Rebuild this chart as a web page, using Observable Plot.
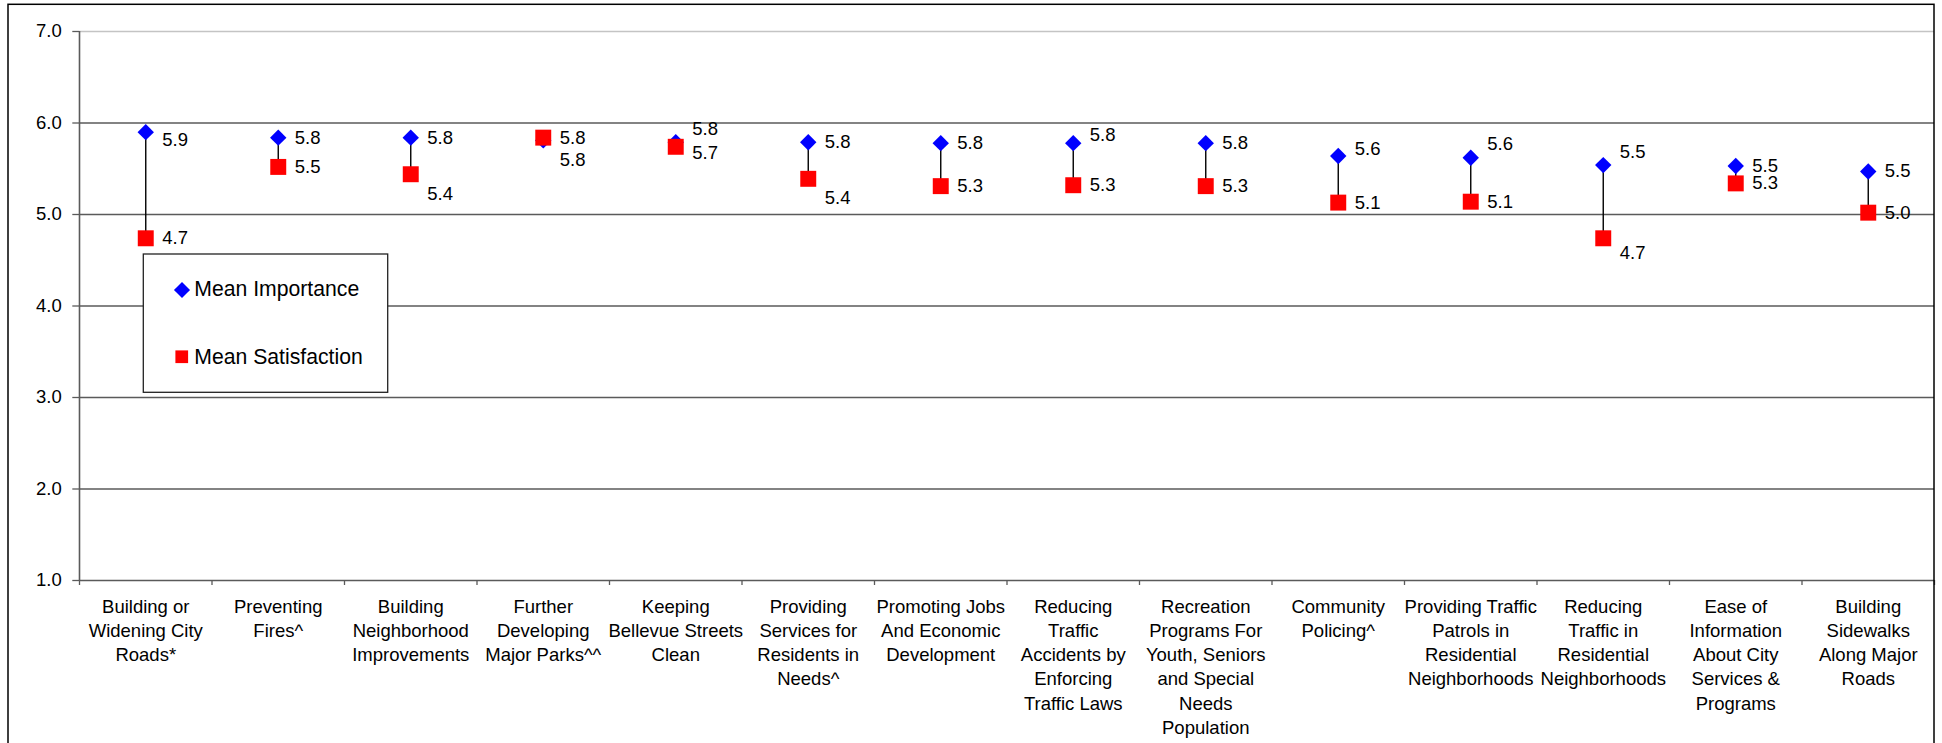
<!DOCTYPE html>
<html>
<head>
<meta charset="utf-8">
<script src="https://cdn.jsdelivr.net/npm/d3@7"></script>
<script src="https://cdn.jsdelivr.net/npm/@observablehq/plot@0.6"></script>
<style>
  html, body { margin: 0; padding: 0; background: #fff; }
  #wrap { position: relative; width: 1942px; height: 743px; overflow: hidden; background: #fff; }
  #wrap svg { position: absolute; left: 0; top: 0; }
</style>
</head>
<body>
<div id="wrap"></div>
<script>
// ---- data ----
const categories = [
  "Building or\nWidening City\nRoads*",
  "Preventing\nFires^",
  "Building\nNeighborhood\nImprovements",
  "Further\nDeveloping\nMajor Parks^^",
  "Keeping\nBellevue Streets\nClean",
  "Providing\nServices for\nResidents in\nNeeds^",
  "Promoting Jobs\nAnd Economic\nDevelopment",
  "Reducing\nTraffic\nAccidents by\nEnforcing\nTraffic Laws",
  "Recreation\nPrograms For\nYouth, Seniors\nand Special\nNeeds\nPopulation",
  "Community\nPolicing^",
  "Providing Traffic\nPatrols in\nResidential\nNeighborhoods",
  "Reducing\nTraffic in\nResidential\nNeighborhoods",
  "Ease of\nInformation\nAbout City\nServices &\nPrograms",
  "Building\nSidewalks\nAlong Major\nRoads"
];
const meanImportance   = [5.90, 5.84, 5.84, 5.81, 5.79, 5.79, 5.78, 5.78, 5.78, 5.64, 5.62, 5.54, 5.53, 5.47];
const meanSatisfaction = [4.74, 5.52, 5.44, 5.84, 5.74, 5.39, 5.31, 5.32, 5.31, 5.13, 5.14, 4.74, 5.34, 5.02];
const yTicks = [1, 2, 3, 4, 5, 6, 7];
const seriesNames = ["Mean Importance", "Mean Satisfaction"];

// ---- layout (label nudges in px, not data) ----
const impLabelDy = [8, 0, 0, 20, -13, 0, 0, -8, 0, -7, -14, -13, 0, 0];
const satLabelDy = [0, 0, 20, 0, 6, 19, 0, 0, 0, 0, 0, 15, 0, 0];

const rows = categories.map((c, i) => ({
  pos: i + 0.5, cat: c, imp: meanImportance[i], sat: meanSatisfaction[i]
}));

const FONT = '"Liberation Sans", Arial, Helvetica, sans-serif';
const GRID = "#5a5a5a";

const labelMarks = [];
rows.forEach((r, i) => {
  labelMarks.push(Plot.text([r], {x: "pos", y: "imp", text: d => d.imp.toFixed(1),
    dx: 16.5, dy: impLabelDy[i], textAnchor: "start", fill: "#000", fontSize: 18.5}));
  labelMarks.push(Plot.text([r], {x: "pos", y: "sat", text: d => d.sat.toFixed(1),
    dx: 16.5, dy: satLabelDy[i], textAnchor: "start", fill: "#000", fontSize: 18.5}));
});

const chart = Plot.plot({
  width: 1942,
  height: 743,
  marginLeft: 79,
  marginRight: 8,
  marginTop: 31,
  marginBottom: 163,
  x: {type: "linear", domain: [0, categories.length], axis: null},
  y: {domain: [1, 7], axis: null},
  style: {fontFamily: FONT, fontSize: "18.5px", color: "#000", background: "transparent", overflow: "visible"},
  marks: [
    Plot.ruleY(yTicks.filter(v => v > 1 && v < 7), {stroke: GRID, strokeWidth: 1.3}),
    Plot.ruleY([7], {stroke: "#c4c4c4", strokeWidth: 1.5}),
    Plot.ruleY([1], {stroke: GRID, strokeWidth: 1.6}),
    Plot.ruleX([0], {y1: 1, y2: 7, stroke: GRID, strokeWidth: 1.6}),
    Plot.axisY({ticks: yTicks, tickFormat: d => d.toFixed(1), tickSize: 6.7, tickPadding: 11,
      stroke: GRID, strokeWidth: 1.3, label: null, fontSize: 18.5, fill: "#000"}),
    Plot.axisX({ticks: d3.range(0, categories.length + 1), tickFormat: () => "", tickSize: 5,
      stroke: GRID, strokeWidth: 1.3, label: null}),
    Plot.axisX({ticks: rows.map(r => r.pos), tickFormat: d => categories[Math.round(d - 0.5)],
      tickSize: 0, tickPadding: 15, lineHeight: 1.31, label: null, fontSize: 18.5, fill: "#000"}),
    Plot.link(rows, {x1: "pos", x2: "pos", y1: "imp", y2: "sat", stroke: "#000", strokeWidth: 1.4}),
    Plot.dot(rows, {x: "pos", y: "imp", symbol: "diamond2", r: 7.4, fill: "#0000ff"}),
    Plot.dot(rows, {x: "pos", y: "sat", symbol: "square", r: 9, fill: "#ff0000"}),
    ...labelMarks
  ]
});

const wrap = document.getElementById("wrap");
wrap.appendChild(chart);

// overlay: outer chart border and legend box
const ov = d3.select(wrap).append("svg")
  .attr("width", 1942).attr("height", 743)
  .style("font-family", FONT);
ov.append("rect").attr("x", 8).attr("y", 4.3).attr("width", 1926).attr("height", 1000)
  .attr("fill", "none").attr("stroke", "#000").attr("stroke-width", 1.5);

const lg = ov.append("g");
lg.append("rect").attr("x", 143.3).attr("y", 254).attr("width", 244.4).attr("height", 138.3)
  .attr("fill", "#fff").attr("stroke", "#222").attr("stroke-width", 1.3);
lg.append("path").attr("d", d3.symbol(d3.symbolDiamond2, 165)())
  .attr("transform", "translate(182,290)").attr("fill", "#0000ff");
lg.append("text").attr("x", 194.3).attr("y", 295.8).attr("font-size", 21.2).attr("fill", "#000")
  .text(seriesNames[0]);
lg.append("rect").attr("x", 175.4).attr("y", 350.4).attr("width", 12.7).attr("height", 12.7)
  .attr("fill", "#ff0000");
lg.append("text").attr("x", 194.3).attr("y", 363.8).attr("font-size", 21.2).attr("fill", "#000")
  .text(seriesNames[1]);
</script>
</body>
</html>
